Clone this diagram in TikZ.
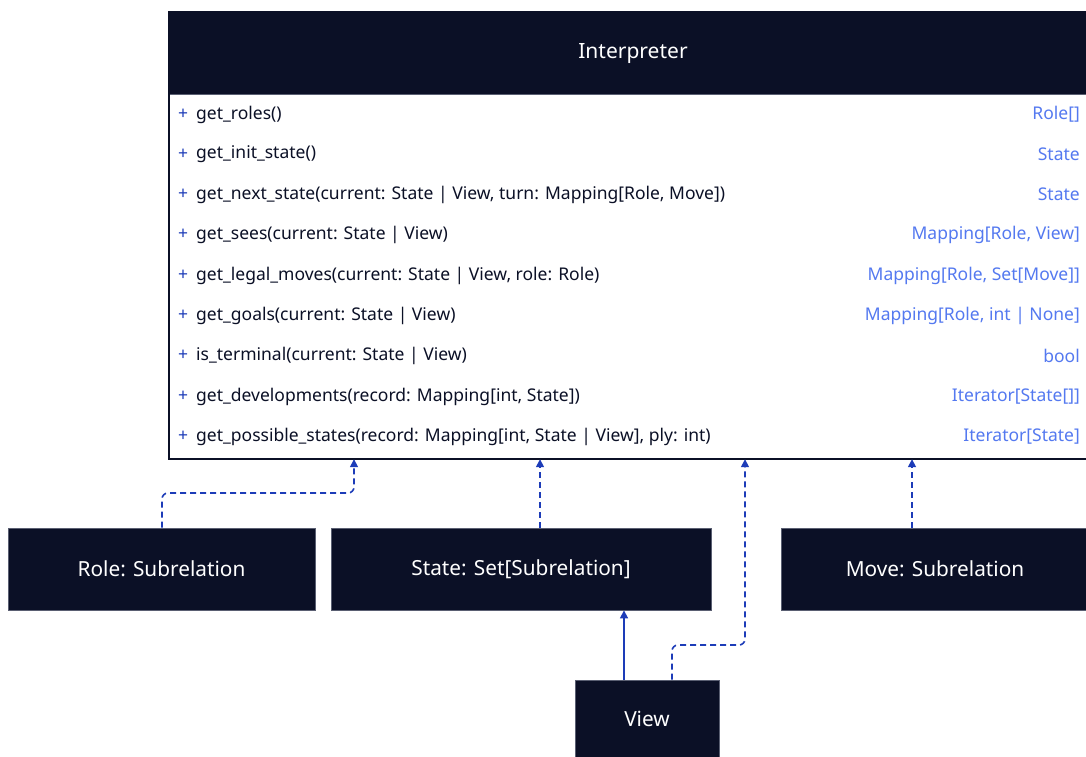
\documentclass[tikz,border=0pt]{standalone}
\usepackage{fontspec}
\setmainfont{Noto Sans}
\usetikzlibrary{arrows.meta,calc}
\definecolor{ink}{HTML}{0B1026}
\definecolor{typeblue}{HTML}{5479F0}
\definecolor{linkblue}{HTML}{1D3CB8}
\definecolor{edgegrey}{HTML}{5A5F72}
\tikzset{
  darkbox/.style={fill=ink, draw=edgegrey, line width=0.8pt, text=white,
    font=\fontsize{20.8}{25}\selectfont, inner sep=0pt},
  member/.style={anchor=west, text=ink, font=\fontsize{17.5}{21}\selectfont, inner sep=0pt},
  plus/.style={anchor=west, text=linkblue, font=\fontsize{17.5}{21}\selectfont, inner sep=0pt},
  rettype/.style={anchor=east, text=typeblue, font=\fontsize{17.5}{21}\selectfont, inner sep=0pt},
  realize/.style={draw=linkblue, line width=1.6pt, dash pattern=on 6pt off 4pt,
    rounded corners=6pt, -{Triangle[length=8pt,width=8pt]}},
  inherit/.style={draw=linkblue, line width=1.6pt, -{Triangle[length=8pt,width=8pt]}}
}
\begin{document}
\begin{tikzpicture}[x=1pt,y=-1pt]
\useasboundingbox (0,0) rectangle (1086,756);
\clip (0,0) rectangle (1086,756);

% class box with its dark title bar
\node (interp) [draw=ink, line width=1.2pt, fill=white, anchor=north west,
  minimum width=921pt, minimum height=446pt, inner sep=0pt] at (169,12) {};
\fill[ink] (interp.north west) rectangle (1090,94);
\draw[edgegrey, line width=0.8pt] (169,94) -- (1090,94);
\draw[ink, line width=1.2pt] (interp.north west) rectangle (interp.south east);
\node (title) [text=white, font=\fontsize{21}{25}\selectfont] at (633,53.5) {Interpreter};

% operations and their return types
\foreach \y/\op/\ret [count=\i] in {
  114.5/{get\_roles()}/{Role[]},
  154.5/{get\_init\_state()}/{State},
  194.5/{get\_next\_state(current: State | View, turn: Mapping[Role, Move])}/{State},
  234.5/{get\_sees(current: State | View)}/{Mapping[Role, View]},
  275.5/{get\_legal\_moves(current: State | View, role: Role)}/{Mapping[Role, Set[Move]]},
  315.5/{get\_goals(current: State | View)}/{Mapping[Role, int | None]},
  355.5/{is\_terminal(current: State | View)}/{bool},
  396.5/{get\_developments(record: Mapping[int, State])}/{Iterator[State[]]},
  436.5/{get\_possible\_states(record: Mapping[int, State | View], ply: int)}/{Iterator[State]}} {
  \node (p\i) [plus] at (178,\y) {+};
  \node (op\i) [member] at (196,\y) {\op};
  \node (rt\i) [rettype] at (1080,\y) {\ret};
}

% related types
\node (role)  [darkbox, minimum width=307pt, minimum height=82pt] at (161.5,569) {Role: Subrelation};
\node (state) [darkbox, minimum width=380pt, minimum height=82pt] at (521,569) {State: Set[Subrelation]};
\node (move)  [darkbox, minimum width=308pt, minimum height=82pt] at (935,569) {Move: Subrelation};
\node (view)  [darkbox, minimum width=144pt, minimum height=78pt] at (647,719) {View};

% connectors
\draw[realize] (role.north -| 162,0) |- (354,493) -- (354,0 |- interp.south);
\draw[realize] (state.north -| 540,0) -- (540,0 |- interp.south);
\draw[realize] (move.north -| 912,0) -- (912,0 |- interp.south);
\draw[inherit] (view.north -| 624,0) -- (624,0 |- state.south);
\draw[realize] (view.north -| 672,0) |- (745,645) -- (745,0 |- interp.south);
\end{tikzpicture}
\end{document}
